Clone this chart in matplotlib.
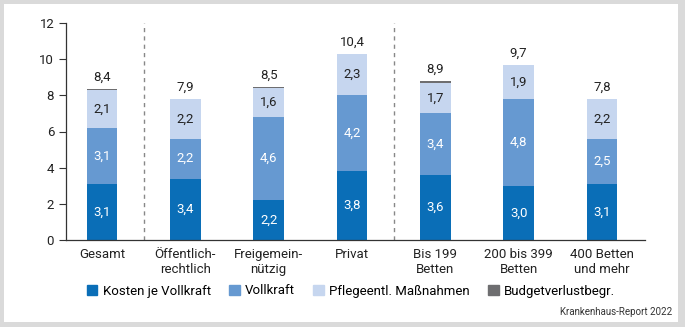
import matplotlib
matplotlib.use('agg')
import matplotlib.pyplot as plt
from matplotlib.patches import Rectangle
import numpy as np

plt.rcParams['font.family'] = ['Roboto', 'DejaVu Sans']

categories = ['Gesamt', 'Öffentlich-\nrechtlich', 'Freigemein-\nnützig', 'Privat',
              'Bis 199\nBetten', '200 bis 399\nBetten', '400 Betten\nund mehr']
kosten = [3.1, 3.4, 2.2, 3.8, 3.6, 3.0, 3.1]
vollkraft = [3.1, 2.2, 4.6, 4.2, 3.4, 4.8, 2.5]
pflege = [2.1, 2.2, 1.6, 2.3, 1.7, 1.9, 2.2]
budget = [0.04, 0.0, 0.08, 0.0, 0.1, 0.0, 0.0]
totals = [8.4, 7.9, 8.5, 10.4, 8.9, 9.7, 7.8]

series_names = ['Kosten je Vollkraft', 'Vollkraft', 'Pflegeentl. Maßnahmen', 'Budgetverlustbegr.']
colors = ['#0a6eb7', '#6699d1', '#c6d6ef', '#6e6e70']
text_colors = ['white', 'white', '#222222', '#222222']

def fmt(v):
    return ('%.1f' % v).replace('.', ',')

fig = plt.figure(figsize=(6.85, 3.27), dpi=100)
fig.patch.set_facecolor('#dadada')
# white panel inside the grey frame
bg = Rectangle((4/685, 5/327), 674/685, 318/327, transform=fig.transFigure,
               facecolor='white', edgecolor='none', zorder=-10)
fig.patches.append(bg)

ax = fig.add_axes([66/685, 1-240/327, 579/685, 217/327])
ax.set_facecolor('none')

x = np.arange(len(categories))
w = 0.367
bottom = np.zeros(len(categories))
for vals, c, tc in zip([kosten, vollkraft, pflege, budget], colors, text_colors):
    vals = np.array(vals)
    ax.bar(x, vals, w, bottom=bottom, color=c, zorder=2)
    if c != colors[3]:
        for xi, b, v in zip(x, bottom, vals):
            ax.text(xi, b + v/2, fmt(v), ha='center', va='center', color=tc, fontsize=9.5, zorder=3)
    bottom += vals

for xi, b, t in zip(x, bottom, totals):
    ax.text(xi, b + 0.28, fmt(t), ha='center', va='bottom', color='#222222', fontsize=9.5)

for sep in [0.5, 3.5]:
    ax.plot([sep, sep], [0, 12], ls=(0, (3, 3)), color='#888888', lw=1, zorder=1)

ax.set_xlim(-0.432, 6.516)
ax.set_ylim(0, 12)
ax.set_yticks(range(0, 13, 2))
ax.set_xticks(x)
ax.set_xticklabels(categories, fontsize=9.5, color='#222222', linespacing=1.2)
ax.tick_params(axis='x', length=0, pad=6)
ax.tick_params(axis='y', length=5, width=0.8, labelsize=9.5, labelcolor='#222222', color='#333333')
for s in ['top', 'right']:
    ax.spines[s].set_visible(False)
for s in ['left', 'bottom']:
    ax.spines[s].set_color('#333333')
    ax.spines[s].set_linewidth(0.9)

handles = [Rectangle((0, 0), 1, 1, color=c) for c in colors]
fig.legend(handles, series_names, loc='center', bbox_to_anchor=(351/685, 1-291/327), ncol=4,
           frameon=False, fontsize=9.5, handlelength=0.8, handleheight=0.8,
           handletextpad=0.4, columnspacing=1.4)

fig.text(672/685, 1-312/327, 'Krankenhaus-Report 2022', ha='right', va='center', fontsize=7, color='#333333')

plt.savefig('out.png', dpi=100, facecolor=fig.get_facecolor())
